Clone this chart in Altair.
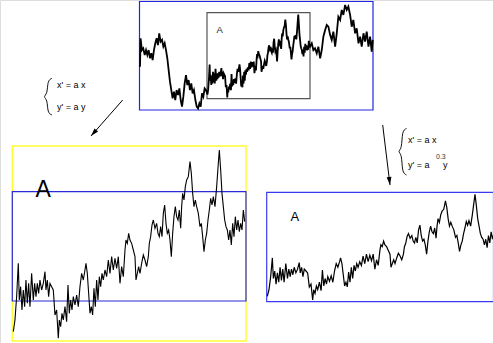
import altair as alt
import pandas as pd

# ---- walk readings (t = time units, v = height units; box A spans t 0..701, v 0..585)
left_t = [-456, -452, -443, -434, -424, -415, -406, -397, -388, -379, -370, -361, -352, -343,
          -334, -325, -316, -306, -297, -288, -279, -270, -261, -252, -243, -234, -225, -216,
          -207, -197, -188, -179, -170, -161, -152, -143, -134, -125, -116, -107, -98, -89,
          -79, -70, -61, -52, -43, -34, -25, -16, -7]
left_v = [218, 411, 331, 343, 297, 331, 297, 331, 275, 309, 263, 331, 377, 411,
          365, 445, 388, 400, 354, 377, 331, 275, 195, 116, 59, 2, 48, -9,
          59, 25, 70, -9, -54, 14, 104, 161, 93, 127, 59, 104, 36, 59,
          -9, -54, -66, -32, -54, 36, 14, 70, 59]

a_t = [3, 8, 13, 18, 21, 25, 29, 33, 37, 41, 45, 49, 53, 58, 63, 67, 71, 75, 79, 83, 88, 93,
       98, 101, 105, 109, 113, 118, 123, 128, 133, 138, 141, 145, 149, 153, 158, 163, 167,
       171, 175, 179, 183, 188, 193, 198, 203, 208, 213, 218, 221, 225, 229, 233, 237, 241,
       245, 249, 253, 257, 261, 265, 269, 273, 278, 283, 288, 293, 298, 303, 308, 313, 318,
       323, 328, 333, 338, 341, 345, 349, 353, 358, 363, 368, 371, 375, 379, 383, 388, 393,
       398, 403, 408, 411, 415, 419, 423, 428, 433, 437, 441, 445, 449, 453, 457, 461, 465,
       469, 473, 477, 481, 485, 489, 493, 497, 501, 505, 508, 511, 515, 519, 523, 528, 533,
       537, 541, 545, 549, 553, 558, 563, 567, 571, 575, 579, 583, 587, 591, 595, 599, 603,
       608, 613, 618, 621, 625, 629, 633, 637, 641, 645, 649, 653, 657, 661, 665, 669, 673,
       677, 681, 685, 689, 693, 697]
a_v = [28, 63, 133, 233, 123, 163, 93, 153, 103, 183, 113, 173, 103, 203, 123, 173, 133, 173,
       143, 183, 153, 173, 208, 153, 183, 133, 173, 163, 153, 78, 93, 8, 63, 43, 83, 63, 103,
       58, 168, 83, 123, 93, 133, 108, 138, 103, 163, 203, 183, 213, 233, 203, 143, 83, 103,
       78, 158, 103, 183, 123, 193, 163, 203, 183, 213, 193, 243, 203, 253, 213, 248, 218,
       253, 173, 223, 193, 273, 303, 293, 323, 303, 293, 273, 253, 183, 203, 223, 203, 233,
       258, 243, 223, 253, 293, 313, 348, 363, 338, 353, 323, 313, 343, 313, 383, 408, 353,
       323, 333, 303, 253, 323, 373, 403, 373, 363, 393, 338, 403, 443, 423, 463, 483, 493,
       538, 503, 443, 403, 423, 403, 383, 343, 353, 313, 268, 303, 323, 363, 393, 428, 408,
       433, 403, 463, 533, 573, 513, 443, 403, 363, 343, 333, 303, 333, 288, 353, 313, 373,
       333, 363, 328, 353, 333, 393, 358]

right_t = [701, 713, 724, 735, 747, 758, 770, 781, 792, 804, 815, 826, 838, 849, 860, 872, 883,
           894, 906, 917, 928, 940, 951, 962, 974, 985, 996, 1008, 1019, 1031, 1042, 1053,
           1065, 1076, 1087, 1099, 1110, 1121, 1128]
right_v = [354, 377, 331, 343, 309, 354, 275, 331, 422, 468, 502, 490, 434, 400, 456, 354, 445,
           558, 536, 604, 570, 638, 604, 627, 570, 490, 536, 445, 479, 377, 422, 354, 445, 388,
           456, 354, 422, 320, 400]

full = pd.DataFrame({"t": left_t + a_t + right_t, "v": left_v + a_v + right_v})
adf = pd.DataFrame({"t": a_t, "v": a_v})

# ---- panel placements (pixel ranges of box A in each panel)
panels = {
    "top": ([207, 310], [98.7, 12.7]),
    "zoom": ([12.3, 246], [341, 146]),
    "affine": ([266.3, 501.9], [301.5, 192.1]),
}


def walk(df, key, sw):
    xr, yr = panels[key]
    return alt.Chart(df).mark_line(color="black", strokeWidth=sw, clip=False).encode(
        x=alt.X("t:Q", scale=alt.Scale(domain=[0, 701], range=xr, nice=False, zero=False), axis=None),
        y=alt.Y("v:Q", scale=alt.Scale(domain=[0, 585], range=yr, nice=False, zero=False), axis=None),
        order="t:Q",
    )


W, H = 493, 343
px = alt.Scale(domain=[0, W], range=[0, W], nice=False, zero=False)
py = alt.Scale(domain=[0, H], range=[0, H], nice=False, zero=False)

boxes = pd.DataFrame({
    "x": [139.5, 207, 12.3, 12.3, 266.7],
    "x2": [373, 310, 246, 246, 493.5],
    "y": [1.5, 12.7, 146, 191.7, 192.3],
    "y2": [110, 98.7, 341, 301, 301.7],
    "c": ["#2424e6", "#555555", "#ffff30", "#2a2ad8", "#3a3af0"],
    "w": [1.2, 1.2, 1.5, 1.2, 1.2],
})
box_layer = alt.Chart(boxes).mark_rect(fillOpacity=0).encode(
    x=alt.X("x:Q", scale=px, axis=None), x2="x2:Q",
    y=alt.Y("y:Q", scale=py, axis=None), y2="y2:Q",
    stroke=alt.Stroke("c:N", scale=None),
    strokeWidth=alt.StrokeWidth("w:Q", scale=None),
)

labels = pd.DataFrame({
    "x": [216.5, 35.5, 290.5, 57, 57, 408, 408, 443, 436],
    "y": [33, 197, 221, 88, 110, 143, 168, 168, 159],
    "text": ["A", "A", "A", "x' = a x", "y' = a y", "x' = a x", "y' = a", "y", "0.3"],
    "size": [9.5, 23, 13, 9, 9, 9, 9, 9, 7],
    "col": ["#222222", "#000000", "#000000", "#000000", "#000000", "#000000", "#000000", "#000000", "#333333"],
})
text_layer = alt.Chart(labels).mark_text(align="left", baseline="alphabetic", font="Liberation Sans").encode(
    x=alt.X("x:Q", scale=px, axis=None),
    y=alt.Y("y:Q", scale=py, axis=None),
    text="text:N",
    size=alt.Size("size:Q", scale=None),
    color=alt.Color("col:N", scale=None),
)

# braces drawn as smooth thin curves
brace = pd.DataFrame({
    "b": ["L"] * 7 + ["R"] * 7,
    "i": list(range(7)) * 2,
    "x": [52, 47.5, 47.5, 43, 47.5, 47.5, 52, 406.5, 402, 402, 397.5, 402, 402, 406.5],
    "y": [78.3, 80.5, 94, 96.7, 99.5, 113, 115, 128.5, 130.8, 149, 151.5, 154, 172.5, 175],
})
brace_layer = alt.Chart(brace).mark_line(color="#111111", strokeWidth=1, interpolate="basis").encode(
    x=alt.X("x:Q", scale=px, axis=None),
    y=alt.Y("y:Q", scale=py, axis=None),
    detail="b:N",
    order="i:Q",
)

arrows = pd.DataFrame({
    "x": [122.7, 382.7], "y": [100, 125],
    "x2": [91, 390], "y2": [136, 185],
    "ang": [221.4, 173],
})
arrow_lines = alt.Chart(arrows).mark_rule(color="black", strokeWidth=1).encode(
    x=alt.X("x:Q", scale=px, axis=None), x2="x2:Q",
    y=alt.Y("y:Q", scale=py, axis=None), y2="y2:Q",
)
arrow_heads = alt.Chart(arrows).mark_point(
    shape="M0,0L1.2,4L-1.2,4Z", filled=True, color="black", opacity=1, size=16
).encode(
    x=alt.X("x2:Q", scale=px, axis=None),
    y=alt.Y("y2:Q", scale=py, axis=None),
    angle=alt.Angle("ang:Q", scale=None),
)

chart = alt.layer(
    box_layer,
    walk(full, "top", 1.8),
    walk(adf, "zoom", 1.1),
    walk(adf, "affine", 1.2),
    text_layer,
    brace_layer,
    arrow_lines,
    arrow_heads,
).resolve_scale(x="independent", y="independent").properties(
    width=W, height=H, padding=0, autosize=alt.AutoSizeParams(type="none"),
).configure_view(stroke=None).configure(background="white")

chart.save("out.html", embed_options={"renderer": "svg", "actions": False})
